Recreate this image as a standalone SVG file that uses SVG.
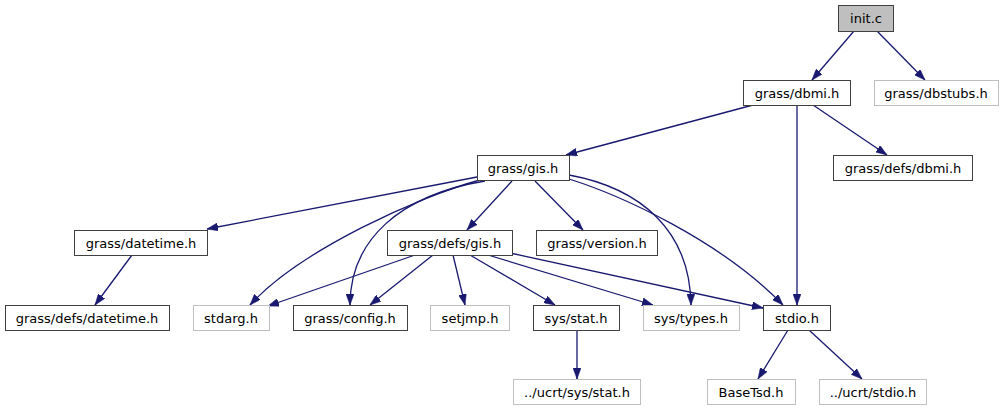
<svg xmlns="http://www.w3.org/2000/svg" width="1004" height="411" viewBox="0 0 1004 411">
<style>
.n rect{fill:#fff;stroke:#404040;stroke-width:1}
.n.root rect{fill:#bfbfbf}
.n.ext rect{stroke:#bfbfbf}
.n text{font-family:"DejaVu Sans",sans-serif;font-size:13px;fill:#000;text-anchor:middle}
#edges path{fill:none;stroke:#191970;stroke-width:1.3;marker-end:url(#arr)}
</style>
<defs>
<marker id="arr" markerUnits="userSpaceOnUse" markerWidth="11" markerHeight="8" refX="11" refY="4" orient="auto">
<path d="M0,0 L11,4 L0,8 z" fill="#191970" stroke="#191970" stroke-width="0.5"/>
</marker>
</defs>
<rect width="1004" height="411" fill="#fff"/>
<g id="edges">
<path d="M854,31 L812,80"/>
<path d="M877,31 L925,80"/>
<path d="M753,105 L566,155"/>
<path d="M813,105 L887,155"/>
<path d="M797,105 L797,305"/>
<path d="M477,177 L207,229"/>
<path d="M512,181 L467,230"/>
<path d="M535,181 L583,230"/>
<path d="M480,180 C420,196 300,250 250,305"/>
<path d="M485,181 C400,195 350,240 350,305"/>
<path d="M569,175 C640,188 690,230 691,305"/>
<path d="M569,179 C620,195 720,240 783,305"/>
<path d="M132,255 L95,305"/>
<path d="M415,255 L268,306"/>
<path d="M433,255 L370,305"/>
<path d="M453,255 L465,305"/>
<path d="M470,255 L555,305"/>
<path d="M488,255 L653,305"/>
<path d="M510,253 L763,308"/>
<path d="M577,330 L577,379"/>
<path d="M788,330 L758,379"/>
<path d="M809,330 L862,379"/>
</g>
<g id="n_init" class="n root"><rect x="838.5" y="5.5" width="55" height="26"/><text x="866" y="23">init.c</text></g>
<g id="n_dbmi" class="n"><rect x="743.5" y="80.5" width="107" height="25"/><text x="797" y="98">grass/dbmi.h</text></g>
<g id="n_dbstubs" class="n ext"><rect x="874.5" y="80.5" width="124" height="25"/><text x="936" y="98">grass/dbstubs.h</text></g>
<g id="n_gis" class="n"><rect x="477.5" y="155.5" width="92" height="25"/><text x="523" y="173">grass/gis.h</text></g>
<g id="n_defsdbmi" class="n"><rect x="833.5" y="155.5" width="139" height="25"/><text x="903" y="173">grass/defs/dbmi.h</text></g>
<g id="n_datetime" class="n"><rect x="74.5" y="230.5" width="133" height="25"/><text x="141" y="248">grass/datetime.h</text></g>
<g id="n_defsgis" class="n"><rect x="387.5" y="230.5" width="125" height="25"/><text x="450" y="248">grass/defs/gis.h</text></g>
<g id="n_version" class="n"><rect x="536.5" y="230.5" width="121" height="25"/><text x="597" y="248">grass/version.h</text></g>
<g id="n_defsdatetime" class="n"><rect x="5.5" y="305.5" width="164" height="25"/><text x="87" y="323">grass/defs/datetime.h</text></g>
<g id="n_stdarg" class="n ext"><rect x="193.5" y="305.5" width="76" height="25"/><text x="231" y="323">stdarg.h</text></g>
<g id="n_config" class="n"><rect x="293.5" y="305.5" width="114" height="25"/><text x="350" y="323">grass/config.h</text></g>
<g id="n_setjmp" class="n ext"><rect x="430.5" y="305.5" width="79" height="25"/><text x="470" y="323">setjmp.h</text></g>
<g id="n_sysstat" class="n"><rect x="533.5" y="305.5" width="86" height="25"/><text x="576" y="323">sys/stat.h</text></g>
<g id="n_systypes" class="n ext"><rect x="643.5" y="305.5" width="96" height="25"/><text x="691" y="323">sys/types.h</text></g>
<g id="n_stdio" class="n"><rect x="763.5" y="305.5" width="67" height="25"/><text x="797" y="323">stdio.h</text></g>
<g id="n_ucrtsysstat" class="n ext"><rect x="513.5" y="379.5" width="127" height="25"/><text x="577" y="397">../ucrt/sys/stat.h</text></g>
<g id="n_basetsd" class="n ext"><rect x="707.5" y="379.5" width="88" height="25"/><text x="751" y="397">BaseTsd.h</text></g>
<g id="n_ucrtstdio" class="n ext"><rect x="819.5" y="379.5" width="107" height="25"/><text x="873" y="397">../ucrt/stdio.h</text></g>
</svg>
